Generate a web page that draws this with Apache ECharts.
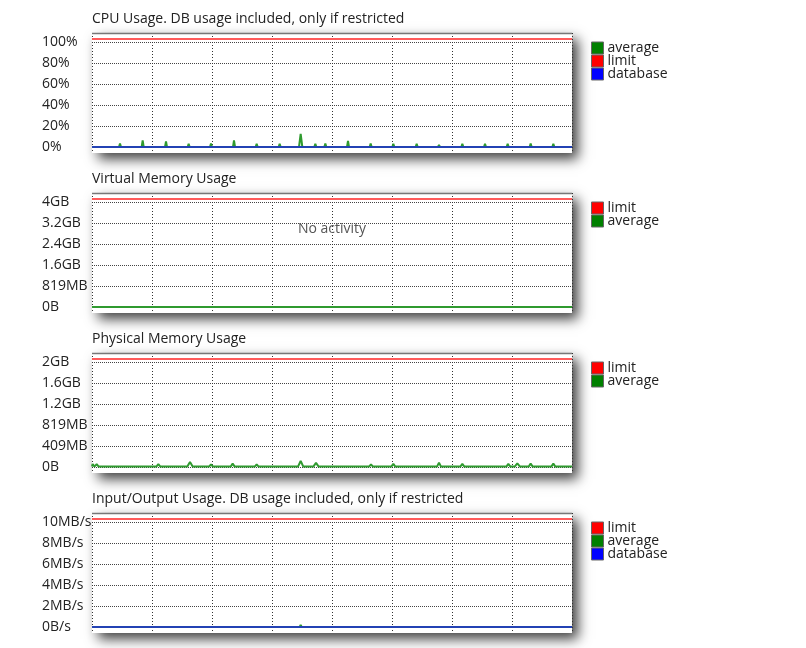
<!DOCTYPE html>
<html>
<head>
<meta charset="utf-8">
<script src="https://cdn.jsdelivr.net/npm/echarts@6/dist/echarts.min.js"></script>
<style>
html,body{margin:0;padding:0;background:#fff;}
#chart{width:806px;height:648px;}
</style>
</head>
<body>
<div id="chart"></div>
<script>
// ---------------- DATA ----------------
// x values are minutes over a 24h window
const panelTitles = [
  'CPU Usage. DB usage included, only if restricted',
  'Virtual Memory Usage',
  'Physical Memory Usage',
  'Input/Output Usage. DB usage included, only if restricted'
];

// CPU (%)
const cpuTicks = ['0%', '20%', '40%', '60%', '80%', '100%'];
const cpuAverage = [
  [0,0],[11,0],[14,1],[17,0],[81,0],[84,3.2],[87,0],[149,0],[152,6.4],[155,0],
  [196,0],[199,1],[202,0],[219,0],[222,5.3],[225,0],[287,0],[290,3],[293,0],
  [354,0],[357,3.2],[360,0],[423,0],[426,6.4],[429,0],[491,0],[494,3],[497,0],
  [560,0],[563,3],[566,0],[621,0],[626,12.5],[631,0],[667,0],[670,3],[673,0],
  [697,0],[700,3.2],[703,0],[765,0],[768,5.8],[771,0],[833,0],[836,3.4],[839,0],
  [901,0],[904,3],[907,0],[971,0],[974,3],[977,0],[1038,0],[1041,2],[1044,0],
  [1108,0],[1111,3],[1114,0],[1176,0],[1179,3],[1182,0],[1244,0],[1247,3],[1250,0],
  [1271,0],[1274,1.5],[1277,0],[1313,0],[1316,3.4],[1319,0],[1381,0],[1384,3],[1387,0],
  [1440,0]
];
const cpuLimit = [[0,103.2],[1440,103.2]];
const cpuDatabase = [[0,0],[1440,0]];

// Virtual memory (MB)
const vmTicks = ['0B', '819MB', '1.6GB', '2.4GB', '3.2GB', '4GB'];
const vmLimit = [[0,4227],[1440,4227]];
const vmAverage = [[0,0],[1440,0]];

// Physical memory (MB)
const pmTicks = ['0B', '409MB', '819MB', '1.2GB', '1.6GB', '2GB'];
const pmLimit = [[0,2113],[1440,2113]];
const pmAverage = [
  [0,8],[2,60],[7,8],[14,55],[20,8],[78,8],[84,40],[90,8],[146,8],[152,40],[158,8],
  [193,8],[199,55],[205,8],[216,8],[222,40],[228,8],[286,8],[294,100],[302,8],
  [351,8],[357,50],[363,8],[416,8],[422,65],[428,8],[488,8],[494,50],[500,8],
  [557,8],[563,45],[569,8],[618,8],[626,118],[634,8],[664,8],[672,80],[680,8],
  [694,8],[700,45],[706,8],[763,8],[769,40],[775,8],[831,8],[837,50],[843,8],
  [898,8],[904,60],[910,8],[968,8],[974,40],[980,8],[998,8],[1004,40],[1010,8],
  [1035,8],[1041,85],[1047,8],[1105,8],[1111,60],[1117,8],[1173,8],[1179,45],[1185,8],
  [1243,8],[1249,60],[1255,8],[1268,8],[1276,70],[1284,8],[1310,8],[1316,65],[1322,8],
  [1378,8],[1384,65],[1390,8],[1440,8]
];

// Input/Output (MB/s)
const ioTicks = ['0B/s', '2MB/s', '4MB/s', '6MB/s', '8MB/s', '10MB/s'];
const ioLimit = [[0,10.32],[1440,10.32]];
const ioAverage = [[0,0],[623,0],[626,0.2],[629,0],[1440,0]];
const ioDatabase = [[0,0],[1440,0]];

const legendNames = [
  ['average', 'limit', 'database'],
  ['limit', 'average'],
  ['limit', 'average'],
  ['limit', 'average', 'database']
];

// ---------------- LAYOUT / STYLE ----------------
const FONT = 'Open Sans';
const PANEL_STEP = 160;
const BOX_LEFT = 92, BOX_TOP = 33, BOX_W = 480, BOX_H = 120, GRID_H = 114;
const axisCfg = [
  { ticks: cpuTicks, interval: 20, max: 109 },
  { ticks: vmTicks, interval: 819.2, max: 4096 * 1.09 },
  { ticks: pmTicks, interval: 409.6, max: 2048 * 1.09 },
  { ticks: ioTicks, interval: 2, max: 10.9 }
];
const COLORS = {
  average: { item: '#008000', line: '#2f9a2f' },
  limit: { item: '#ff0000', line: '#ff5a5a' },
  database: { item: '#0000ff', line: '#2342b4' }
};

const chart = echarts.init(document.getElementById('chart'), null, { renderer: 'canvas' });

const grids = [], xAxes = [], yAxes = [], titles = [], legends = [], graphics = [];
for (let i = 0; i < 4; i++) {
  const off = i * PANEL_STEP;
  grids.push({ left: BOX_LEFT, top: BOX_TOP + off, width: BOX_W, height: GRID_H, containLabel: false });
  xAxes.push({
    type: 'value', gridIndex: i, min: 0, max: 1440, interval: 180,
    axisLabel: { show: false },
    axisLine: { show: false },
    axisTick: { show: true, length: 6, lineStyle: { color: '#333', type: [1, 2], width: 1 } },
    splitLine: { show: true, lineStyle: { color: '#333', type: [1, 2], width: 1 } }
  });
  const cfg = axisCfg[i];
  yAxes.push({
    type: 'value', gridIndex: i, min: 0, max: cfg.max, interval: cfg.interval,
    axisLine: { show: false }, axisTick: { show: false },
    axisLabel: {
      showMaxLabel: false,
      align: 'left', margin: 50, color: '#222', fontFamily: FONT, fontSize: 14,
      formatter: function (v) {
        const k = Math.round(v / cfg.interval);
        if (Math.abs(v - k * cfg.interval) > cfg.interval * 1e-4) return '';
        return cfg.ticks[k] !== undefined ? cfg.ticks[k] : '';
      }
    },
    splitLine: { show: true, lineStyle: { color: '#444', type: [1, 1], width: 1 } }
  });
  titles.push({
    text: panelTitles[i], left: 92, top: 12 + off, padding: 0,
    textStyle: { fontFamily: FONT, fontSize: 14, fontWeight: 'normal', color: '#222' }
  });
  legends.push({
    data: legendNames[i], orient: 'vertical', left: 591, top: 41 + off, padding: 0,
    itemGap: -1, itemWidth: 12, itemHeight: 12, icon: 'rect', selectedMode: false,
    itemStyle: { borderColor: '#666', borderWidth: 1 },
    textStyle: { fontFamily: FONT, fontSize: 14, color: '#222', padding: [0, 0, 0, -1] }
  });
  graphics.push({
    type: 'rect', z: -10, silent: true,
    shape: { x: BOX_LEFT, y: BOX_TOP + off, width: BOX_W, height: BOX_H },
    style: { fill: '#fff', shadowBlur: 12, shadowOffsetX: 6, shadowOffsetY: 6, shadowColor: 'rgba(0,0,0,0.75)' }
  });
  graphics.push({
    type: 'line', z: 100, silent: true,
    shape: { x1: BOX_LEFT, y1: BOX_TOP + off + 0.5, x2: BOX_LEFT + BOX_W, y2: BOX_TOP + off + 0.5 },
    style: { stroke: '#777', lineWidth: 1.5 }
  });
}
graphics.push({
  type: 'text', z: 100, silent: true, x: 332, y: 229,
  style: { text: 'No activity', fill: '#555', font: '14px "Open Sans"', textAlign: 'center', textVerticalAlign: 'middle' }
});

function mk(name, data, gi) {
  return {
    type: 'line', name: name, data: data, xAxisIndex: gi, yAxisIndex: gi,
    showSymbol: false, symbol: 'none', animation: false, silent: true,
    itemStyle: { color: COLORS[name].item },
    lineStyle: { color: COLORS[name].line, width: 2 }
  };
}

const series = [
  mk('average', cpuAverage, 0), mk('limit', cpuLimit, 0), mk('database', cpuDatabase, 0),
  mk('limit', vmLimit, 1), mk('average', vmAverage, 1),
  mk('limit', pmLimit, 2), mk('average', pmAverage, 2),
  mk('limit', ioLimit, 3), mk('average', ioAverage, 3), mk('database', ioDatabase, 3)
];

chart.setOption({
  animation: false,
  backgroundColor: '#fff',
  title: titles,
  legend: legends,
  grid: grids,
  xAxis: xAxes,
  yAxis: yAxes,
  graphic: { elements: graphics },
  series: series
});
</script>
</body>
</html>
